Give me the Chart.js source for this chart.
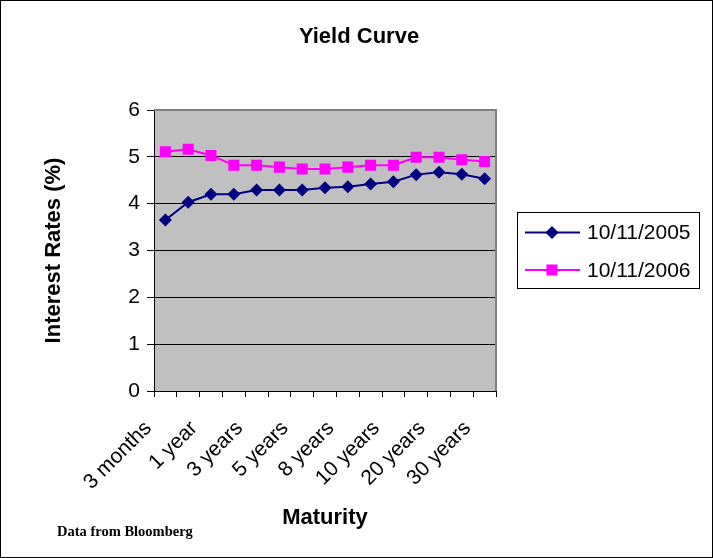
<!DOCTYPE html>
<html>
<head>
<meta charset="utf-8">
<title>Yield Curve</title>
<script src="https://cdn.jsdelivr.net/npm/chart.js@4/dist/chart.umd.min.js"></script>
<style>
  html, body { margin: 0; padding: 0; background: #fff; }
  #wrap { width: 713px; height: 558px; position: relative; }
</style>
</head>
<body>
<div id="wrap"><canvas id="c" width="713" height="558"></canvas></div>
<script>
// Maturities along the curve
const maturities = ['3 months', '6 months', '1 year', '2 years', '3 years', '4 years', '5 years',
  '7 years', '8 years', '9 years', '10 years', '15 years', '20 years', '25 years', '30 years'];
// Yields (%) on each date
const yields2005 = [3.65, 4.03, 4.20, 4.20, 4.29, 4.29, 4.29, 4.34, 4.36, 4.42, 4.47, 4.62, 4.67, 4.63, 4.53];
const yields2006 = [5.11, 5.16, 5.03, 4.82, 4.82, 4.78, 4.74, 4.74, 4.78, 4.82, 4.82, 4.99, 4.99, 4.94, 4.90];
const seriesNames = ['10/11/2005', '10/11/2006'];
const yTicks = [0, 1, 2, 3, 4, 5, 6];

const SANS = "'Liberation Sans', Arial, sans-serif";

const decorations = {
  id: 'decorations',
  beforeDraw(chart) {
    const { ctx, chartArea: a } = chart;
    ctx.save();
    ctx.fillStyle = '#fff';
    ctx.fillRect(0, 0, chart.width, chart.height);
    ctx.fillStyle = '#C0C0C0';
    ctx.fillRect(a.left, a.top, a.right - a.left, a.bottom - a.top);
    ctx.restore();
  },
  afterDraw(chart) {
    const { ctx, chartArea: a } = chart;
    ctx.save();
    // plot frame (top and right edges)
    ctx.strokeStyle = '#808080';
    ctx.lineWidth = 2;
    ctx.beginPath();
    ctx.moveTo(a.left, a.top);
    ctx.lineTo(a.right, a.top);
    ctx.lineTo(a.right, a.bottom);
    ctx.stroke();

    // outer frame
    ctx.strokeStyle = '#000';
    ctx.lineWidth = 1;
    ctx.strokeRect(0.5, 0.5, chart.width - 1, chart.height - 1);

    // title
    ctx.fillStyle = '#000';
    ctx.font = 'bold 22px ' + SANS;
    ctx.textAlign = 'center';
    ctx.textBaseline = 'middle';
    ctx.fillText('Yield Curve', 359, 37);

    // source note
    ctx.font = 'bold 14.5px "Liberation Serif", "Times New Roman", serif';
    ctx.textAlign = 'left';
    ctx.textBaseline = 'alphabetic';
    ctx.fillText('Data from Bloomberg', 57, 536);

    // legend
    const lx = 517, ly = 212, lw = 182, lh = 76;
    ctx.fillStyle = '#fff';
    ctx.fillRect(lx, ly, lw, lh);
    ctx.strokeStyle = '#000';
    ctx.lineWidth = 1;
    ctx.strokeRect(lx + 0.5, ly + 0.5, lw, lh);
    chart.data.datasets.forEach((ds, i) => {
      const y = ly + 20.5 + i * 37.5;
      const mx = lx + 35;
      ctx.strokeStyle = ds.borderColor;
      ctx.lineWidth = 2;
      ctx.beginPath();
      ctx.moveTo(lx + 8, y);
      ctx.lineTo(lx + 63, y);
      ctx.stroke();
      ctx.fillStyle = ds.pointBackgroundColor;
      ctx.beginPath();
      if (ds.pointStyle === 'rect') {
        const s = ds.pointRadius * Math.SQRT1_2;
        ctx.rect(mx - s, y - s, 2 * s, 2 * s);
      } else {
        const r = ds.pointRadius;
        ctx.moveTo(mx, y - r);
        ctx.lineTo(mx + r, y);
        ctx.lineTo(mx, y + r);
        ctx.lineTo(mx - r, y);
        ctx.closePath();
      }
      ctx.fill();
      ctx.fillStyle = '#000';
      ctx.font = '21px ' + SANS;
      ctx.textAlign = 'left';
      ctx.textBaseline = 'middle';
      ctx.fillText(ds.label, lx + 70, y + 1);
    });
    ctx.restore();
  }
};

new Chart(document.getElementById('c'), {
  type: 'line',
  data: {
    labels: maturities,
    datasets: [
      {
        label: seriesNames[0],
        data: yields2005,
        borderColor: '#000080',
        backgroundColor: '#000080',
        pointBackgroundColor: '#000080',
        pointBorderColor: '#000080',
        borderWidth: 2,
        pointStyle: 'rectRot',
        pointRadius: 6.5,
        pointBorderWidth: 0,
        tension: 0
      },
      {
        label: seriesNames[1],
        data: yields2006,
        borderColor: '#FF00FF',
        backgroundColor: '#FF00FF',
        pointBackgroundColor: '#FF00FF',
        pointBorderColor: '#FF00FF',
        borderWidth: 2,
        pointStyle: 'rect',
        pointRadius: 7.8,
        pointBorderWidth: 0,
        tension: 0
      }
    ]
  },
  options: {
    responsive: false,
    animation: false,
    devicePixelRatio: 1,
    layout: { padding: { left: 0, right: 217, top: 110, bottom: 0 } },
    plugins: {
      legend: { display: false },
      title: { display: false },
      tooltip: { enabled: false }
    },
    scales: {
      x: {
        type: 'category',
        offset: true,
        grid: {
          offset: true,
          drawOnChartArea: false,
          drawTicks: true,
          tickLength: 6,
          color: '#000'
        },
        border: { color: '#000', width: 1 },
        ticks: {
          autoSkip: false,
          minRotation: 45,
          maxRotation: 45,
          color: '#000',
          font: { family: SANS, size: 21 },
          padding: 19,
          labelOffset: -17,
          callback: function (value, index) {
            return index % 2 === 0 ? this.getLabelForValue(value) : '';
          }
        },
        title: {
          display: true,
          text: 'Maturity',
          color: '#000',
          font: { family: SANS, size: 22, weight: 'bold' },
          padding: { top: 0, bottom: 26.8 }
        },
        afterFit(scale) { scale.height = 167; }
      },
      y: {
        min: 0,
        max: 6,
        afterBuildTicks(scale) { scale.ticks = yTicks.map(v => ({ value: v })); },
        grid: {
          color: '#000',
          lineWidth: 1,
          drawTicks: true,
          tickLength: 7
        },
        border: { color: '#000', width: 1 },
        ticks: {
          color: '#000',
          font: { family: SANS, size: 21 },
          padding: 7
        },
        title: {
          display: true,
          text: 'Interest Rates (%)',
          color: '#000',
          font: { family: SANS, size: 22, weight: 'bold' },
          padding: { top: 40.3, bottom: 0 }
        },
        afterFit(scale) { scale.width = 154; }
      }
    }
  },
  plugins: [decorations]
});
</script>
</body>
</html>
